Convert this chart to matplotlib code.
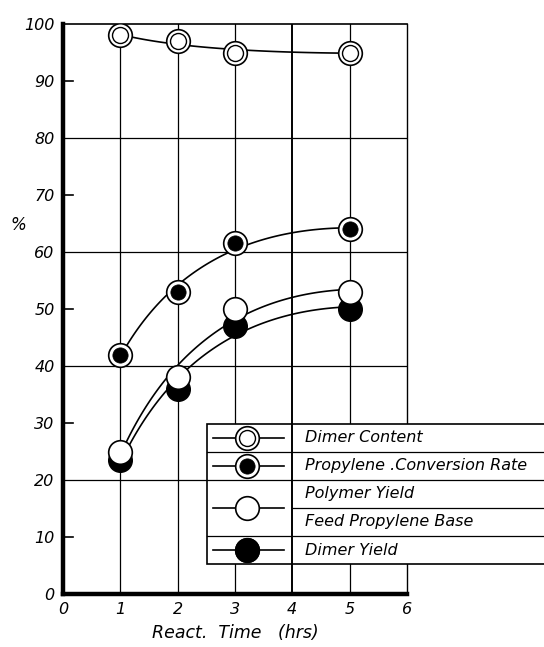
import numpy as np
import matplotlib.pyplot as plt
from matplotlib.patches import Rectangle

# values
react_time = [1, 2, 3, 5]
dimer_content = [98, 97, 95, 95]
propylene_conversion = [42, 53, 61.5, 64]
polymer_yield = [25, 38, 50, 53]
dimer_yield = [23.5, 36, 47, 50]

legend_labels = ['Dimer Content', 'Propylene .Conversion Rate', 'Polymer Yield',
                 'Feed Propylene Base', 'Dimer Yield']

font = dict(family='DejaVu Sans', style='italic')

fig = plt.figure(figsize=(5.44, 6.47), dpi=100)
ax = fig.add_axes([0.1158, 0.0819, 0.632, 0.881])
ax.set_xlim(0, 6)
ax.set_ylim(0, 100)

# grid
for gx in [1, 2, 3, 5]:
    ax.axvline(gx, color='black', lw=0.9, zorder=1)
ax.axvline(4, color='black', lw=1.4, zorder=1)
for gy in [20, 40, 60, 80]:
    ax.axhline(gy, color='black', lw=0.9, zorder=1)

# short ticks inside at odd tens
for ty in [10, 30, 50, 70, 90]:
    ax.plot([0, 0.18], [ty, ty], color='black', lw=1.2, zorder=1)

ax.spines['left'].set_linewidth(3.2)
ax.spines['bottom'].set_linewidth(3.2)
ax.spines['top'].set_linewidth(1.2)
ax.spines['right'].set_linewidth(1.0)
ax.tick_params(length=0, labelsize=11.5, pad=6)
ax.set_xticks(range(0, 7))
ax.set_yticks(range(0, 101, 10))
for lab in ax.get_xticklabels() + ax.get_yticklabels():
    lab.set_fontstyle('italic')

# smooth trend curves (fitted against sqrt of time)
xs = np.linspace(1, 5, 100)
st = np.sqrt(react_time)
for series in [dimer_content, propylene_conversion, polymer_yield, dimer_yield]:
    coef = np.polyfit(st, series, 2)
    ax.plot(xs, np.polyval(coef, np.sqrt(xs)), color='black', lw=1.2, zorder=2)


def double_open(x, y, **kw):
    ax.plot(x, y, 'o', ms=17, mfc='white', mec='black', mew=1.2, zorder=4, **kw)
    ax.plot(x, y, 'o', ms=11.5, mfc='white', mec='black', mew=1.0, zorder=5, **kw)


def double_filled(x, y, **kw):
    ax.plot(x, y, 'o', ms=17, mfc='white', mec='black', mew=1.2, zorder=4, **kw)
    ax.plot(x, y, 'o', ms=11, mfc='black', mec='black', mew=0.5, zorder=5, **kw)


def open_dot(x, y, **kw):
    ax.plot(x, y, 'o', ms=17, mfc='white', mec='black', mew=1.2, zorder=5, **kw)


def filled_dot(x, y, **kw):
    ax.plot(x, y, 'o', ms=17, mfc='black', mec='black', mew=1.0, zorder=3, **kw)


double_open(react_time, dimer_content)
double_filled(react_time, propylene_conversion)
filled_dot(react_time, dimer_yield)
open_dot(react_time, polymer_yield)

# table-style legend
lx0, ldiv, lx1 = 2.51, 4.0, 8.6
ly0, ly1 = 5.3, 29.8
ax.add_patch(Rectangle((lx0, ly0), lx1 - lx0, ly1 - ly0, facecolor='white',
                       edgecolor='black', lw=1.2, zorder=6, clip_on=False))
ax.plot([ldiv, ldiv], [ly0, ly1], color='black', lw=1.4, zorder=7, clip_on=False)
for sy, start in [(24.9, lx0), (20.0, lx0), (15.1, ldiv), (10.2, lx0)]:
    ax.plot([start, lx1], [sy, sy], color='black', lw=0.9, zorder=7, clip_on=False)

sample_y = [27.4, 22.5, 15.1, 7.7]
kinds = ['double_open', 'double_filled', 'open', 'filled']
for sy in sample_y:
    ax.plot([2.62, 3.85], [sy, sy], color='black', lw=1.2, zorder=8, clip_on=False)

for sy, kind in zip(sample_y, kinds):
    ax.plot(3.21, sy, 'o', ms=17, mfc='white', mec='black', mew=1.2, zorder=9, clip_on=False)
    if kind == 'double_open':
        ax.plot(3.21, sy, 'o', ms=11.5, mfc='white', mec='black', mew=1.0, zorder=10, clip_on=False)
    elif kind == 'double_filled':
        ax.plot(3.21, sy, 'o', ms=11, mfc='black', mec='black', mew=0.5, zorder=10, clip_on=False)
    elif kind == 'filled':
        ax.plot(3.21, sy, 'o', ms=17, mfc='black', mec='black', mew=1.0, zorder=10, clip_on=False)

text_y = [27.4, 22.5, 17.6, 12.7, 7.7]
for ty, lab in zip(text_y, legend_labels):
    ax.text(4.22, ty, lab, fontsize=11.5, va='center', ha='left', zorder=11,
            clip_on=False, **font)

ax.text(-0.78, 64.7, '%', fontsize=12, va='center', ha='center', **font)
ax.text(3.0, -6.9, 'React.  Time   (hrs)', fontsize=12.5, va='center', ha='center', **font)

fig.savefig('out.png', dpi=100)
